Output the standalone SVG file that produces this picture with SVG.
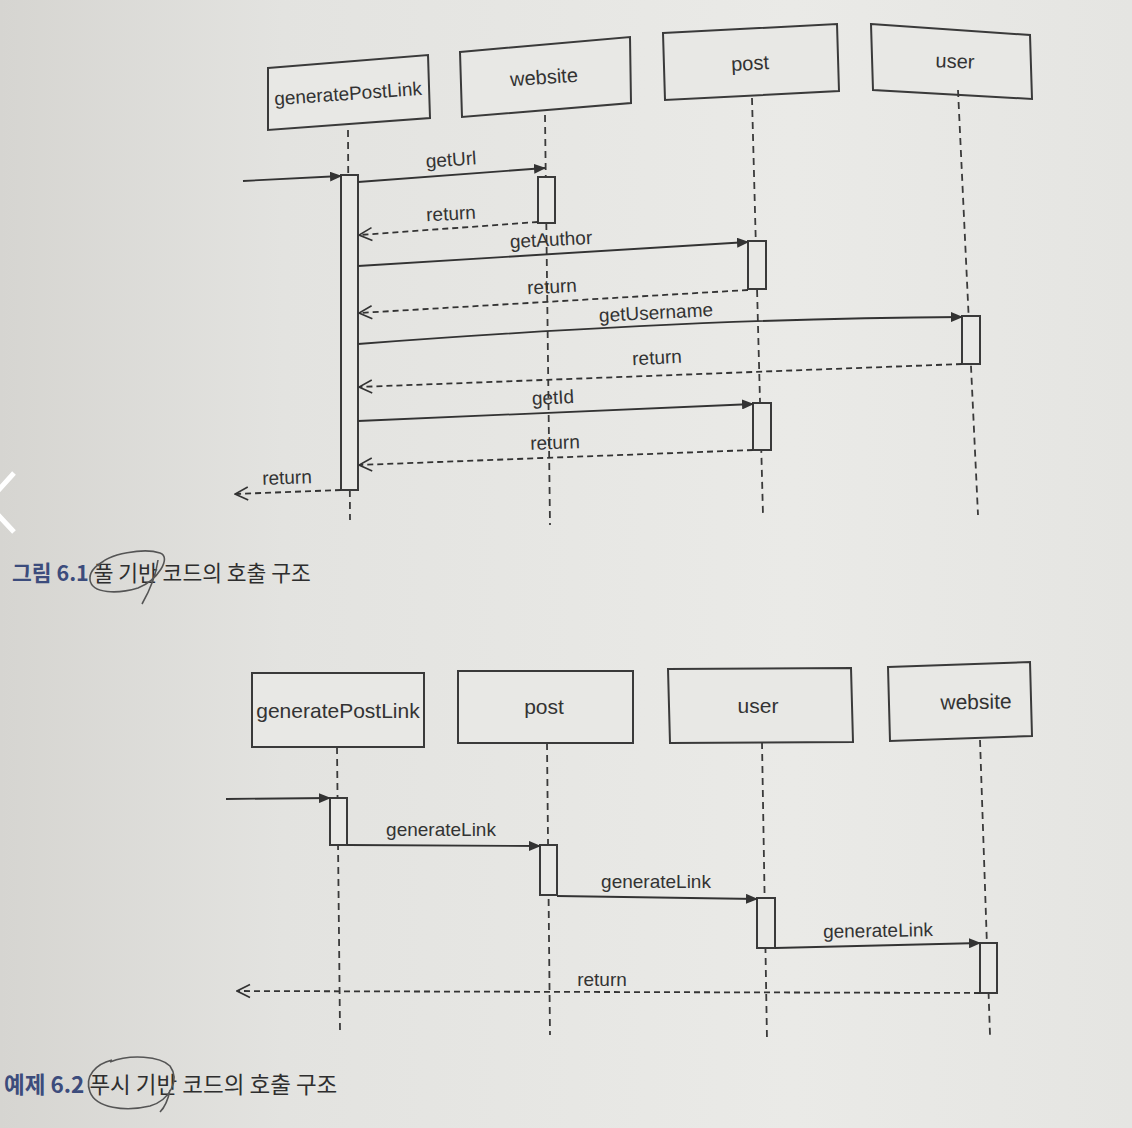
<svg xmlns="http://www.w3.org/2000/svg" width="1132" height="1128" viewBox="0 0 1132 1128">
<defs>
<linearGradient id="bg" x1="0" y1="0" x2="1" y2="0">
<stop offset="0" stop-color="#d6d5d1"/>
<stop offset="0.25" stop-color="#e3e3e0"/>
<stop offset="0.7" stop-color="#eaeae7"/>
<stop offset="1" stop-color="#e5e5e2"/>
</linearGradient>
<marker id="fill" viewBox="0 0 12 10" refX="11" refY="5" markerWidth="12" markerHeight="10" markerUnits="userSpaceOnUse" orient="auto">
<path d="M0,0 L12,5 L0,10 Z" fill="#333"/>
</marker>
<marker id="open" viewBox="0 0 16 16" refX="15" refY="8" markerWidth="16" markerHeight="16" markerUnits="userSpaceOnUse" orient="auto">
<path d="M2,1.5 L15,8 L2,14.5" fill="none" stroke="#333" stroke-width="1.6"/>
</marker>
</defs>
<style>
.box{fill:#e8e8e5;stroke:#3a3a3a;stroke-width:2}
.act{fill:#e8e8e5;stroke:#3a3a3a;stroke-width:2}
.life{stroke:#3a3a3a;stroke-width:1.8;stroke-dasharray:7 5;fill:none}
.msg{stroke:#333;stroke-width:1.8;fill:none;marker-end:url(#fill)}
.ret{stroke:#333;stroke-width:1.8;fill:none;stroke-dasharray:6 4;marker-end:url(#open)}
.lbl{font-family:"Liberation Sans",Arial,sans-serif;font-size:19px;fill:#333;text-anchor:middle}
.name{font-family:"Liberation Sans",Arial,sans-serif;font-size:20px;fill:#333;text-anchor:middle}
.name.small{font-size:19px}
.nameb{font-family:"Liberation Sans",Arial,sans-serif;font-size:21px;fill:#333;text-anchor:middle}
.cap{font-family:"Noto Sans CJK KR","Noto Sans",sans-serif;font-size:21.5px;fill:#2e2e2e}
.cap2{font-family:"Noto Sans CJK KR","Noto Sans",sans-serif;font-size:22.5px;fill:#2e2e2e}
.capnum{fill:#3c4c7c;font-weight:bold}
.pen{fill:none;stroke:#555;stroke-width:1.6}
</style>
<rect width="1132" height="1128" fill="url(#bg)"/>

<!-- Top diagram -->
<g id="t-generatePostLink">
<polygon class="box" points="268,68 428,55 430,118 268,130"/>
<text class="name small" x="348" y="100" transform="rotate(-4 348 94)">generatePostLink</text>
</g>
<g id="t-website">
<polygon class="box" points="460,52 630,37 631,103 462,117"/>
<text class="name" x="544" y="84" transform="rotate(-4 544 78)">website</text>
</g>
<g id="t-post">
<polygon class="box" points="663,33 837,24 839,91 665,100"/>
<text class="name" x="750" y="70" transform="rotate(-3 750 64)">post</text>
</g>
<g id="t-user">
<polygon class="box" points="871,24 1030,35 1032,99 873,90"/>
<text class="name" x="955" y="68" transform="rotate(2 955 62)">user</text>
</g>

<g id="t-lifelines">
<line class="life" x1="348" y1="130" x2="350" y2="520"/>
<line class="life" x1="545" y1="115" x2="550" y2="525"/>
<line class="life" x1="752" y1="98" x2="763" y2="515"/>
<line class="life" x1="958" y1="90" x2="978" y2="515"/>
</g>
<g id="t-activations">
<rect class="act" x="341" y="175" width="17" height="315"/>
<rect class="act" x="538" y="177" width="17" height="46"/>
<rect class="act" x="748" y="241" width="18" height="48"/>
<rect class="act" x="962" y="316" width="18" height="48"/>
<rect class="act" x="753" y="403" width="18" height="47"/>
</g>

<g id="t-connectors">
<line class="msg" x1="243" y1="181" x2="341" y2="176"/>
<line class="msg" x1="358" y1="182" x2="545" y2="168"/>
<line class="ret" x1="538" y1="222" x2="359" y2="235"/>
<line class="msg" x1="358" y1="266" x2="748" y2="242"/>
<line class="ret" x1="748" y1="290" x2="359" y2="313"/>
<path class="msg" d="M358,344 Q700,318 962,317"/>
<line class="ret" x1="962" y1="364" x2="359" y2="387"/>
<line class="msg" x1="358" y1="421" x2="753" y2="404"/>
<line class="ret" x1="753" y1="450" x2="359" y2="465"/>
<line class="ret" x1="341" y1="490" x2="235" y2="494"/>
</g>
<g id="t-labels">
<text class="lbl" x="451" y="166" transform="rotate(-4 451 160)">getUrl</text>
<text class="lbl" x="451" y="220" transform="rotate(-3 451 214)">return</text>
<text class="lbl" x="551" y="246" transform="rotate(-3 551 240)">getAuthor</text>
<text class="lbl" x="552" y="293" transform="rotate(-3 552 287)">return</text>
<text class="lbl" x="656" y="319" transform="rotate(-3 656 313)">getUsername</text>
<text class="lbl" x="657" y="364" transform="rotate(-3 657 358)">return</text>
<text class="lbl" x="553" y="404" transform="rotate(-3 553 398)">getId</text>
<text class="lbl" x="555" y="449" transform="rotate(-2 555 443)">return</text>
<text class="lbl" x="287" y="484" transform="rotate(-2 287 478)">return</text>
</g>

<!-- Caption 1 -->
<g id="caption1">
<text class="cap" x="12" y="581"><tspan class="capnum">그림 6.1</tspan> 풀 기반 코드의 호출 구조</text>
<path class="pen" d="M98,566 C108,553 145,548 160,553 C172,557 158,580 138,588 C118,594 92,594 90,580 C89,572 95,566 104,561 M158,560 C156,575 150,590 142,604"/>
</g>

<!-- Bottom diagram -->
<g id="b-generatePostLink">
<rect class="box" x="252" y="673" width="172" height="74"/>
<text class="nameb" x="338" y="718">generatePostLink</text>
</g>
<g id="b-post">
<rect class="box" x="458" y="671" width="175" height="72"/>
<text class="nameb" x="544" y="714">post</text>
</g>
<g id="b-user">
<polygon class="box" points="668,669 851,668 853,742 670,743"/>
<text class="nameb" x="758" y="713">user</text>
</g>
<g id="b-website">
<polygon class="box" points="888,667 1030,662 1032,736 890,741"/>
<text class="nameb" x="976" y="709" transform="rotate(-1 976 703)">website</text>
</g>

<g id="b-lifelines">
<line class="life" x1="337" y1="747" x2="340" y2="1030"/>
<line class="life" x1="547" y1="743" x2="550" y2="1035"/>
<line class="life" x1="762" y1="742" x2="767" y2="1040"/>
<line class="life" x1="980" y1="740" x2="990" y2="1035"/>
</g>
<g id="b-activations">
<rect class="act" x="330" y="798" width="17" height="47"/>
<rect class="act" x="540" y="845" width="17" height="50"/>
<rect class="act" x="757" y="898" width="18" height="50"/>
<rect class="act" x="980" y="943" width="17" height="50"/>
</g>
<g id="b-connectors">
<line class="msg" x1="226" y1="799" x2="330" y2="798"/>
<line class="msg" x1="347" y1="845" x2="540" y2="846"/>
<line class="msg" x1="557" y1="896" x2="757" y2="899"/>
<line class="msg" x1="775" y1="948" x2="980" y2="943"/>
<line class="ret" x1="980" y1="993" x2="237" y2="991"/>
</g>
<g id="b-labels">
<text class="lbl" x="441" y="836">generateLink</text>
<text class="lbl" x="656" y="888">generateLink</text>
<text class="lbl" x="878" y="937" transform="rotate(-1 878 931)">generateLink</text>
<text class="lbl" x="602" y="986">return</text>
</g>

<!-- Caption 2 -->
<g id="caption2">
<text class="cap2" x="4" y="1093"><tspan class="capnum">예제 6.2</tspan> 푸시 기반 코드의 호출 구조</text>
<path class="pen" d="M110,1062 C130,1054 160,1056 170,1066 C180,1080 170,1100 150,1106 C125,1112 96,1108 90,1092 C84,1076 96,1064 112,1060 M170,1090 C168,1100 164,1108 160,1112"/>
</g>

<!-- viewer chevron -->
<polyline points="14,473 -13,503 14,532" fill="none" stroke="#ffffff" stroke-width="5"/>
</svg>
